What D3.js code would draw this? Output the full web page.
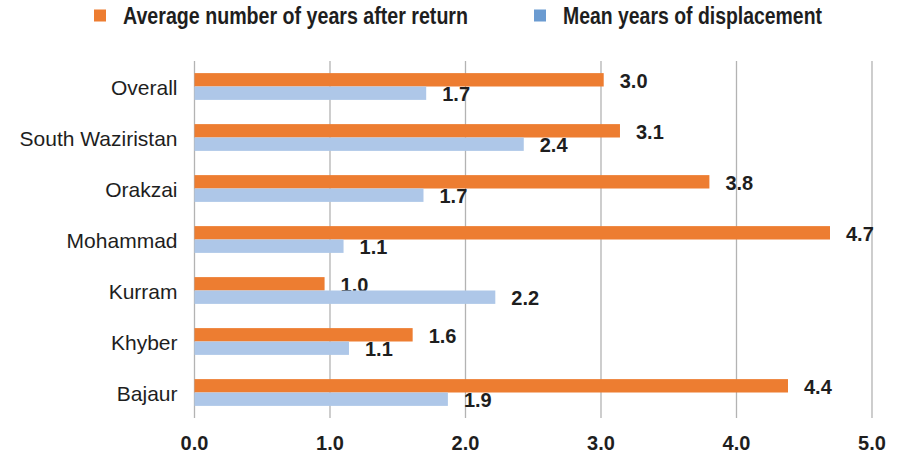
<!DOCTYPE html>
<html>
  <head>
    <meta charset="utf-8">
    <title>years after return</title>
    <script src="https://d3js.org/d3.v7.min.js"></script>
    <style>
      body { margin: 0; background: #fff; }
      text { font-family: "Liberation Sans", Arial, sans-serif; fill: #1e1e1e; }
    </style>
  </head>
  <body>
    <svg width="906" height="459"></svg>
    <script>
      // data
      var categories = ["Overall", "South Waziristan", "Orakzai", "Mohammad", "Kurram", "Khyber", "Bajaur"];
      var afterReturn = [3.02, 3.14, 3.80, 4.69, 0.96, 1.61, 4.38];
      var displacement = [1.71, 2.43, 1.69, 1.10, 2.22, 1.14, 1.87];
      var seriesNames = ["Average number of years after return", "Mean years of displacement"];
      var xTicks = [0, 1, 2, 3, 4, 5];

      var barColors = ["#ed7d31", "#aec7e8"];
      var legendColors = ["#ed7d31", "#6b9bd1"];

      var svg = d3.select("svg");
      var margin = {top: 61, right: 34, bottom: 41, left: 194.5};
      var width = 906 - margin.left - margin.right;
      var height = 459 - margin.top - margin.bottom;

      var x = d3.scaleLinear().domain([0, 5]).range([0, width]);
      var y = d3.scaleBand().domain(categories).range([0, height])
        .paddingInner(0.475).paddingOuter(0.2375);
      var ySub = d3.scaleBand().domain([0, 1]).range([0, y.bandwidth()]);

      var g = svg.append("g")
        .attr("transform", "translate(" + margin.left + "," + margin.top + ")");

      // gridlines
      g.append("g")
        .selectAll("line")
        .data(xTicks)
        .enter()
        .append("line")
        .attr("x1", function(d){ return x(d); })
        .attr("x2", function(d){ return x(d); })
        .attr("y1", 0)
        .attr("y2", height)
        .attr("stroke", "#b3b3b3")
        .attr("stroke-width", 1.3);

      // x tick labels
      g.append("g")
        .selectAll("text")
        .data(xTicks)
        .enter()
        .append("text")
        .attr("x", function(d){ return x(d); })
        .attr("y", height + 25)
        .attr("dy", "0.35em")
        .attr("text-anchor", "middle")
        .attr("font-size", 20)
        .attr("font-weight", "bold")
        .text(function(d){ return d3.format(".1f")(d); });

      // category labels
      g.append("g")
        .selectAll("text")
        .data(categories)
        .enter()
        .append("text")
        .attr("x", -17)
        .attr("y", function(d){ return y(d) + y.bandwidth() / 2 + 1; })
        .attr("dy", "0.35em")
        .attr("text-anchor", "end")
        .attr("font-size", 21)
        .text(function(d){ return d; });

      var series = [afterReturn, displacement];

      series.forEach(function(vals, s) {
        var rows = categories.map(function(c, i){ return {cat: c, v: vals[i]}; });

        g.append("g")
          .selectAll("rect")
          .data(rows)
          .enter()
          .append("rect")
          .attr("x", 0)
          .attr("y", function(d){ return y(d.cat) + ySub(s); })
          .attr("width", function(d){ return x(d.v); })
          .attr("height", ySub.bandwidth())
          .attr("fill", barColors[s]);

        g.append("g")
          .selectAll("text")
          .data(rows)
          .enter()
          .append("text")
          .attr("x", function(d){ return x(d.v) + 16; })
          .attr("y", function(d){ return y(d.cat) + ySub(s) + ySub.bandwidth() / 2 + 1; })
          .attr("dy", "0.35em")
          .attr("font-size", 20)
          .attr("font-weight", "bold")
          .text(function(d){ return d3.format(".1f")(d.v); });
      });

      // legend
      var legendX = [94, 534];
      var legendW = [345, 259];
      var legend = svg.append("g")
        .selectAll("g")
        .data(seriesNames)
        .enter()
        .append("g")
        .attr("transform", function(d, i){ return "translate(" + legendX[i] + ",9.5)"; });

      legend.append("rect")
        .attr("width", 12)
        .attr("height", 12)
        .attr("fill", function(d, i){ return legendColors[i]; });

      legend.append("text")
        .attr("x", 29)
        .attr("y", 6)
        .attr("dy", "0.35em")
        .attr("font-size", 23)
        .attr("font-weight", "bold")
        .attr("textLength", function(d, i){ return legendW[i]; })
        .attr("lengthAdjust", "spacingAndGlyphs")
        .text(function(d){ return d; });
    </script>
  </body>
</html>
